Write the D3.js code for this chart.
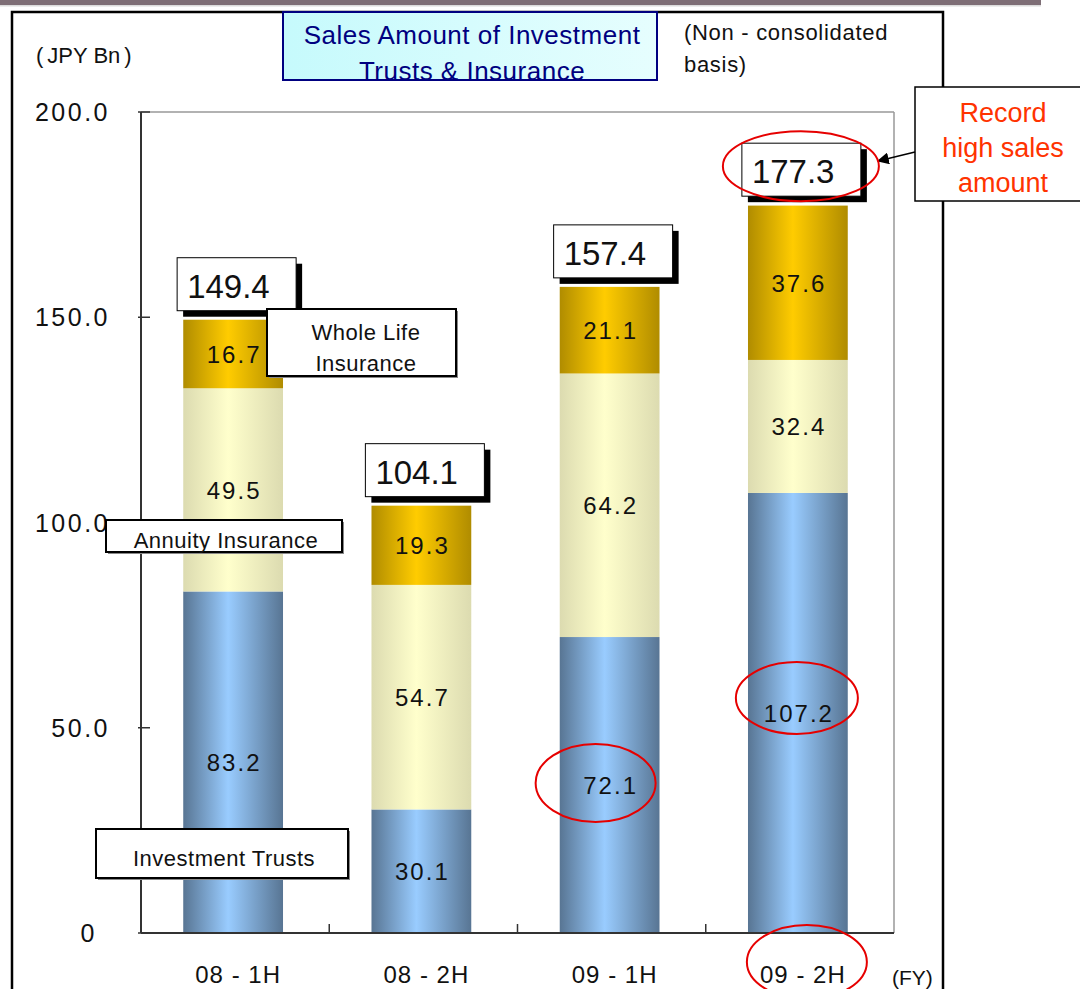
<!DOCTYPE html>
<html><head><meta charset="utf-8">
<script src="https://cdn.jsdelivr.net/npm/d3@7"></script>
<style>body{margin:0;background:#fff}svg{display:block}text{font-family:"Liberation Sans",Arial,sans-serif}</style>
</head><body><svg id="c" width="1080" height="989"></svg>
<script>
const categories = ["08 - 1H","08 - 2H","09 - 1H","09 - 2H"];
const investmentTrusts = [83.2, 30.1, 72.1, 107.2];
const annuityInsurance = [49.5, 54.7, 64.2, 32.4];
const wholeLifeInsurance = [16.7, 19.3, 21.1, 37.6];
const totals = [149.4, 104.1, 157.4, 177.3];
const yTickValues = [0, 50, 100, 150, 200];
const yTickLabels = ["0", "50.0", "100.0", "150.0", "200.0"];
const seriesKeys = ["it", "ai", "wl"];

(function () {
const svg = d3.select("#c");
const defs = svg.append("defs");
function grad(id, edge, mid) {
  const g = defs.append("linearGradient").attr("id", id).attr("x1", 0).attr("x2", 1).attr("y1", 0).attr("y2", 0);
  g.append("stop").attr("offset", 0).attr("stop-color", edge);
  g.append("stop").attr("offset", 0.45).attr("stop-color", mid);
  g.append("stop").attr("offset", 1).attr("stop-color", edge);
}
grad("g-it", "#587593", "#99ccff");
grad("g-ai", "#dcdbb0", "#ffffcc");
grad("g-wl", "#b08c00", "#ffcc00");
const tg = defs.append("linearGradient").attr("id", "g-title").attr("x1", 0).attr("x2", 1);
tg.append("stop").attr("offset", 0).attr("stop-color", "#c6fafc");
tg.append("stop").attr("offset", 1).attr("stop-color", "#e6fefe");
defs.append("clipPath").attr("id", "clip-title").append("rect").attr("x", 283).attr("y", 12).attr("width", 374).attr("height", 67);

// top band
svg.append("rect").attr("x", 0).attr("y", 0).attr("width", 1041).attr("height", 5).attr("fill", "#7e6e76");
svg.append("rect").attr("x", 0).attr("y", 5).attr("width", 1041).attr("height", 1.5).attr("fill", "#dcdcdc");
// outer frame
svg.append("rect").attr("x", 12).attr("y", 12).attr("width", 931).attr("height", 1010)
  .attr("fill", "none").attr("stroke", "#000").attr("stroke-width", 2.5);

const pl = 141, pr = 894, pt = 112, pb = 933;
const x = d3.scaleBand().domain(categories).range([pl, pr]).paddingInner(0.47).paddingOuter(0.235);
const y = d3.scaleLinear().domain([0, 200]).range([pb, pt]);
const bw = x.bandwidth();
const bx = c => x(c) - 2;

// plot border
svg.append("line").attr("x1", pl).attr("x2", pr).attr("y1", pt).attr("y2", pt).attr("stroke", "#999").attr("stroke-width", 1.5);
svg.append("line").attr("x1", pr).attr("x2", pr).attr("y1", pt).attr("y2", pb).attr("stroke", "#999").attr("stroke-width", 1.5);

const rows = categories.map((c, i) => ({cat: c, it: investmentTrusts[i], ai: annuityInsurance[i], wl: wholeLifeInsurance[i]}));
const stacked = d3.stack().keys(seriesKeys)(rows);

const bars = svg.append("g");
stacked.forEach(s => {
  bars.selectAll(null).data(s).enter().append("rect")
    .attr("x", d => bx(d.data.cat)).attr("width", bw)
    .attr("y", d => y(d[1])).attr("height", d => y(d[0]) - y(d[1]))
    .attr("fill", `url(#g-${s.key})`);
});
stacked.forEach(s => {
  bars.selectAll(null).data(s).enter().append("text")
    .attr("x", d => bx(d.data.cat) + bw / 2 + 1).attr("y", d => y((d[0] + d[1]) / 2) + 9)
    .attr("text-anchor", "middle").attr("font-size", 24).attr("letter-spacing", 2)
    .attr("fill", "#111").text(d => d.data[s.key].toFixed(1));
});

// axes
const axL = svg.append("g");
axL.append("line").attr("x1", pl).attr("x2", pl).attr("y1", pt).attr("y2", pb).attr("stroke", "#333").attr("stroke-width", 2);
axL.append("line").attr("x1", pl).attr("x2", pr).attr("y1", pb).attr("y2", pb).attr("stroke", "#333").attr("stroke-width", 2);
yTickValues.forEach((v, i) => {
  axL.append("line").attr("x1", pl - 3).attr("x2", pl + 9).attr("y1", y(v)).attr("y2", y(v)).attr("stroke", "#333").attr("stroke-width", 1.5);
  axL.append("text").attr("x", v === 0 ? 97 : 110).attr("y", y(v) + 9).attr("text-anchor", "end")
    .attr("font-size", 25).attr("letter-spacing", 2.5).attr("fill", "#111").text(yTickLabels[i]);
});
categories.slice(1).forEach(c => {
  const xv = x(c) - x.step() * x.paddingInner() / 2;
  axL.append("line").attr("x1", xv).attr("x2", xv).attr("y1", pb).attr("y2", pb - 9).attr("stroke", "#333").attr("stroke-width", 1.5);
});
categories.forEach(c => {
  axL.append("text").attr("x", x(c) + bw / 2 + 3).attr("y", 983).attr("text-anchor", "middle")
    .attr("font-size", 24).attr("letter-spacing", 1).attr("fill", "#111").text(c);
});
svg.append("text").attr("x", 892).attr("y", 985).attr("font-size", 21).attr("fill", "#111").text("(FY)");

// total boxes
const tb = svg.append("g");
categories.forEach((c, i) => {
  const bxx = bx(c) + bw / 2 - 56;
  const byy = y(totals[i]) - 9 - 53;
  tb.append("rect").attr("x", bxx + 6).attr("y", byy + 6).attr("width", 119).attr("height", 53).attr("fill", "#000");
  tb.append("rect").attr("x", bxx).attr("y", byy).attr("width", 119).attr("height", 53).attr("fill", "#fff").attr("stroke", "#000").attr("stroke-width", 1);
  tb.append("text").attr("x", bxx + 10).attr("y", byy + 40).attr("font-size", 33).attr("fill", "#111").text(totals[i].toFixed(1));
});

// series label boxes
function labelBox(x0, y0, w, h, lines, cx, baselines) {
  const g = svg.append("g");
  g.append("rect").attr("x", x0 + 2).attr("y", y0 + 2).attr("width", w).attr("height", h).attr("fill", "#888");
  g.append("rect").attr("x", x0).attr("y", y0).attr("width", w).attr("height", h).attr("fill", "#fff").attr("stroke", "#000").attr("stroke-width", 2);
  lines.forEach((t, k) => g.append("text").attr("x", cx).attr("y", baselines[k]).attr("text-anchor", "middle")
    .attr("font-size", 22).attr("letter-spacing", 0.5).attr("fill", "#111").text(t));
}
labelBox(267, 309, 189, 67, ["Whole Life", "Insurance"], 366, [340, 371]);
labelBox(106, 520, 236, 32, ["Annuity Insurance"], 226, [548]);
labelBox(96, 829, 252, 49, ["Investment Trusts"], 224, [866]);

// title
svg.append("rect").attr("x", 283).attr("y", 12).attr("width", 374).attr("height", 68).attr("fill", "url(#g-title)");
const tt = svg.append("g").attr("clip-path", "url(#clip-title)");
tt.append("text").attr("x", 472).attr("y", 44).attr("text-anchor", "middle").attr("font-size", 26).attr("letter-spacing", 0.5).attr("fill", "#000080").text("Sales Amount of Investment");
tt.append("text").attr("x", 472).attr("y", 80).attr("text-anchor", "middle").attr("font-size", 26).attr("letter-spacing", 0.5).attr("fill", "#000080").text("Trusts & Insurance");
svg.append("rect").attr("x", 283).attr("y", 12).attr("width", 374).attr("height", 68).attr("fill", "none").attr("stroke", "#000080").attr("stroke-width", 2);

svg.append("text").attr("x", 684).attr("y", 40).attr("font-size", 22).attr("letter-spacing", 0.7).attr("fill", "#111").text("(Non - consolidated");
svg.append("text").attr("x", 684).attr("y", 72).attr("font-size", 22).attr("letter-spacing", 0.7).attr("fill", "#111").text("basis)");
const jpy = svg.append("text").attr("x", 36).attr("y", 63).attr("font-size", 22).attr("fill", "#111");
jpy.append("tspan").text("(");
jpy.append("tspan").attr("dx", 4).text("JPY Bn");
jpy.append("tspan").attr("dx", 4).text(")");

// callout
svg.append("rect").attr("x", 915).attr("y", 87).attr("width", 200).attr("height", 114).attr("fill", "#fff").attr("stroke", "#000").attr("stroke-width", 1.5);
["Record", "high sales", "amount"].forEach((t, k) => svg.append("text").attr("x", 1003).attr("y", 122 + k * 35)
  .attr("text-anchor", "middle").attr("font-size", 27).attr("fill", "#ff3300").text(t));
defs.append("marker").attr("id", "arr").attr("viewBox", "0 0 10 10").attr("refX", 9).attr("refY", 5)
  .attr("markerWidth", 8).attr("markerHeight", 8).attr("orient", "auto")
  .append("path").attr("d", "M0,0L10,5L0,10z").attr("fill", "#000");
svg.append("line").attr("x1", 915).attr("y1", 152).attr("x2", 878).attr("y2", 161).attr("stroke", "#000").attr("stroke-width", 1.5).attr("marker-end", "url(#arr)");

// highlight ellipses
const last = categories.length - 1;
const red = svg.append("g").attr("fill", "none").attr("stroke", "#e60000").attr("stroke-width", 2);
red.append("ellipse").attr("cx", bx(categories[last]) + bw / 2 + 3).attr("cy", y(totals[last]) - 39).attr("rx", 78).attr("ry", 35);
red.append("ellipse").attr("cx", bx(categories[last]) + bw / 2 - 1).attr("cy", y(investmentTrusts[last] / 2) - 15).attr("rx", 61).attr("ry", 36);
red.append("ellipse").attr("cx", bx(categories[2]) + bw / 2 - 14).attr("cy", y(investmentTrusts[2] / 2) - 2).attr("rx", 60).attr("ry", 39);
red.append("ellipse").attr("cx", x(categories[last]) + bw / 2 + 7).attr("cy", 962).attr("rx", 60).attr("ry", 37);
})();
</script></body></html>
